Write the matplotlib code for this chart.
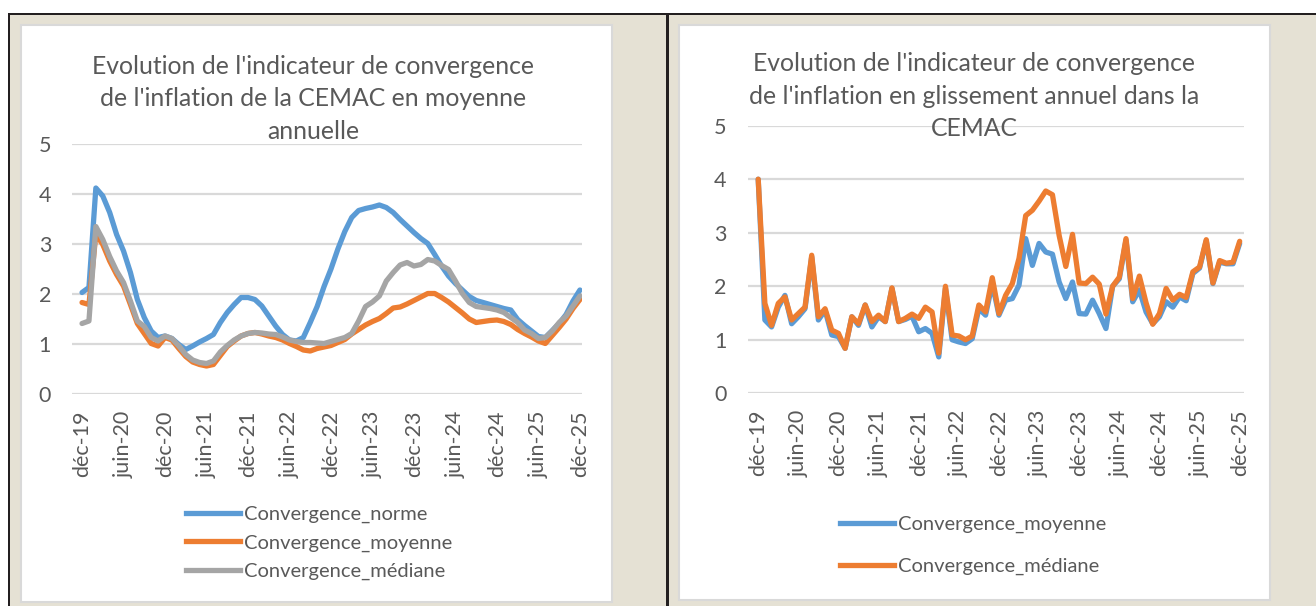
import numpy as np
import matplotlib
matplotlib.use("Agg")
import matplotlib.pyplot as plt
from matplotlib.patches import Rectangle
from matplotlib.lines import Line2D

plt.rcParams['font.family'] = ['Lato', 'DejaVu Sans']

# monthly values, dec-19 .. dec-25 (73 months)
tick_labels = ["déc-19", "juin-20", "déc-20", "juin-21", "déc-21", "juin-22", "déc-22",
               "juin-23", "déc-23", "juin-24", "déc-24", "juin-25", "déc-25"]

# left chart : moyenne annuelle
conv_norme = [2.03, 2.13, 4.12, 3.96, 3.63, 3.19, 2.86, 2.43, 1.89, 1.53, 1.26, 1.13, 1.16,
              1.11, 0.99, 0.89, 0.96, 1.04, 1.11, 1.19, 1.43, 1.63, 1.79, 1.93, 1.93, 1.89,
              1.76, 1.56, 1.36, 1.19, 1.08, 1.06, 1.13, 1.43, 1.75, 2.15, 2.50, 2.90, 3.25,
              3.53, 3.67, 3.71, 3.74, 3.78, 3.73, 3.63, 3.49, 3.36, 3.23, 3.11, 3.01, 2.79,
              2.56, 2.36, 2.21, 2.08, 1.95, 1.87, 1.83, 1.79, 1.75, 1.71, 1.68, 1.49, 1.37,
              1.26, 1.15, 1.13, 1.27, 1.41, 1.59, 1.86, 2.08]
conv_moyenne = [1.83, 1.79, 3.20, 2.99, 2.66, 2.39, 2.16, 1.79, 1.41, 1.21, 1.01, 0.96, 1.13,
                1.08, 0.91, 0.75, 0.64, 0.59, 0.56, 0.59, 0.77, 0.95, 1.06, 1.16, 1.21, 1.23,
                1.20, 1.16, 1.13, 1.08, 1.01, 0.95, 0.88, 0.86, 0.91, 0.94, 0.97, 1.03, 1.09,
                1.20, 1.29, 1.38, 1.45, 1.51, 1.61, 1.72, 1.74, 1.80, 1.87, 1.94, 2.01, 2.01,
                1.93, 1.84, 1.73, 1.62, 1.50, 1.43, 1.45, 1.47, 1.48, 1.45, 1.39, 1.29, 1.21,
                1.14, 1.06, 1.01, 1.17, 1.33, 1.50, 1.71, 1.89]
conv_mediane = [1.41, 1.46, 3.35, 3.09, 2.75, 2.46, 2.23, 1.86, 1.46, 1.35, 1.13, 1.06, 1.16,
                1.11, 0.96, 0.79, 0.68, 0.63, 0.61, 0.66, 0.84, 0.97, 1.08, 1.16, 1.21, 1.23,
                1.22, 1.20, 1.19, 1.14, 1.08, 1.05, 1.03, 1.03, 1.02, 1.01, 1.05, 1.09, 1.13,
                1.21, 1.46, 1.75, 1.84, 1.96, 2.26, 2.43, 2.58, 2.63, 2.56, 2.59, 2.69, 2.66,
                2.57, 2.49, 2.26, 2.01, 1.83, 1.75, 1.73, 1.71, 1.68, 1.63, 1.53, 1.43, 1.28,
                1.21, 1.11, 1.13, 1.26, 1.43, 1.56, 1.76, 1.96]

# right chart : glissement annuel
ga_moyenne = [4.00, 1.37, 1.24, 1.61, 1.83, 1.30, 1.43, 1.58, 2.55, 1.37, 1.55, 1.09, 1.06,
              0.84, 1.43, 1.27, 1.65, 1.24, 1.43, 1.34, 1.96, 1.34, 1.38, 1.44, 1.15, 1.21,
              1.12, 0.68, 1.96, 1.00, 0.96, 0.93, 1.02, 1.58, 1.46, 2.05, 1.46, 1.74, 1.77,
              2.02, 2.89, 2.39, 2.80, 2.64, 2.60, 2.08, 1.77, 2.08, 1.49, 1.48, 1.74, 1.49,
              1.21, 2.00, 2.14, 2.86, 1.71, 1.93, 1.52, 1.30, 1.43, 1.71, 1.61, 1.80, 1.73,
              2.24, 2.34, 2.85, 2.05, 2.45, 2.42, 2.42, 2.80]
ga_mediane = [4.00, 1.68, 1.27, 1.68, 1.80, 1.37, 1.49, 1.61, 2.58, 1.43, 1.58, 1.18, 1.12,
              0.84, 1.43, 1.30, 1.65, 1.34, 1.46, 1.34, 1.97, 1.34, 1.40, 1.48, 1.40, 1.61,
              1.52, 0.75, 2.00, 1.09, 1.07, 1.00, 1.07, 1.65, 1.52, 2.16, 1.49, 1.83, 2.05,
              2.52, 3.32, 3.42, 3.59, 3.78, 3.71, 2.95, 2.37, 2.97, 2.06, 2.05, 2.17, 2.04,
              1.48, 2.00, 2.17, 2.89, 1.77, 2.19, 1.69, 1.29, 1.49, 1.96, 1.74, 1.85, 1.79,
              2.27, 2.36, 2.87, 2.06, 2.48, 2.43, 2.45, 2.84]

BLUE, ORANGE, GRAY = '#5b9bd5', '#ed7d31', '#a5a5a5'
TXT = '#595959'
BEIGE = '#e5e1d4'

W, H = 1316, 606


def box(x0, y0, x1, y1):
    # pixel box (top-left origin) -> figure fraction
    return [x0 / W, 1 - y1 / H, (x1 - x0) / W, (y1 - y0) / H]


fig = plt.figure(figsize=(W / 100, H / 100), dpi=100, facecolor=BEIGE)


def rect(x0, y0, x1, y1, fc, ec='none', lw=0):
    b = box(x0, y0, x1, y1)
    fig.patches.append(Rectangle((b[0], b[1]), b[2], b[3], transform=fig.transFigure,
                                 facecolor=fc, edgecolor=ec, linewidth=lw, zorder=-10))


# page frame
rect(0, 0, W, 13, 'white')
rect(0, 13, 8, H, 'white')
rect(7.5, 12.5, W, 15, '#231f20')
rect(7.5, 12.5, 10, H, '#231f20')
rect(666, 12.5, 669, H, '#231f20')
# chart areas
rect(21, 25, 612, 602, 'white', '#d9d9d9', 1.5)
rect(679, 25, 1270, 600, 'white', '#d9d9d9', 1.5)

x = np.arange(len(conv_norme))
ticks = np.arange(0, len(x), 6)


def style(ax):
    ax.set_ylim(0, 5)
    ax.set_yticks(range(6))
    ax.grid(axis='y', color='#d9d9d9', lw=1.6)
    ax.set_axisbelow(True)
    for s in ax.spines.values():
        s.set_visible(False)
    ax.set_facecolor('none')
    ax.set_xticks(ticks)
    ax.set_xticklabels(tick_labels, rotation=90)
    ax.tick_params(axis='both', length=0, colors=TXT, labelsize=15.5)
    ax.tick_params(axis='y', pad=15)
    ax.tick_params(axis='x', pad=12)


lw = 3.8
kw = dict(lw=lw, solid_joinstyle='round', solid_capstyle='round')

# left chart
ax1 = fig.add_axes(box(72, 144, 582, 394))
style(ax1)
ax1.set_xlim(-1.45, 72.3)
ax1.plot(x, conv_norme, color=BLUE, **kw)
ax1.plot(x, conv_moyenne, color=ORANGE, **kw)
ax1.plot(x, conv_mediane, color=GRAY, **kw)
fig.text(313 / W, 1 - 99 / H,
         "Evolution de l'indicateur de convergence\nde l'inflation de la CEMAC en moyenne\nannuelle",
         ha='center', va='center', fontsize=17.8, color=TXT, linespacing=1.5)

h1 = [Line2D([], [], color=c, lw=lw) for c in (BLUE, ORANGE, GRAY)]
fig.legend(h1, ['Convergence_norme', 'Convergence_moyenne', 'Convergence_médiane'],
           loc='upper left', bbox_to_anchor=(186 / W, 1 - 506 / H), frameon=False,
           fontsize=14.5, labelcolor=TXT, handlelength=2.7, handletextpad=0.2,
           labelspacing=0.55, borderaxespad=0, borderpad=0)

# right chart
ax2 = fig.add_axes(box(747.5, 125.7, 1243.7, 393.3))
style(ax2)
ax2.set_xlim(-1.6, 72.6)
ax2.plot(x, ga_moyenne, color=BLUE, **kw)
ax2.plot(x, ga_mediane, color=ORANGE, **kw)
fig.text(974 / W, 1 - 96 / H,
         "Evolution de l'indicateur de convergence\nde l'inflation en glissement annuel dans la\nCEMAC",
         ha='center', va='center', fontsize=17.8, color=TXT, linespacing=1.5)

h2 = [Line2D([], [], color=c, lw=lw) for c in (BLUE, ORANGE)]
fig.legend(h2, ['Convergence_moyenne', 'Convergence_médiane'],
           loc='upper left', bbox_to_anchor=(840 / W, 1 - 516 / H), frameon=False,
           fontsize=14.5, labelcolor=TXT, handlelength=2.7, handletextpad=0.2,
           labelspacing=1.2, borderaxespad=0, borderpad=0)

fig.savefig('out.png', dpi=100, facecolor=BEIGE)
